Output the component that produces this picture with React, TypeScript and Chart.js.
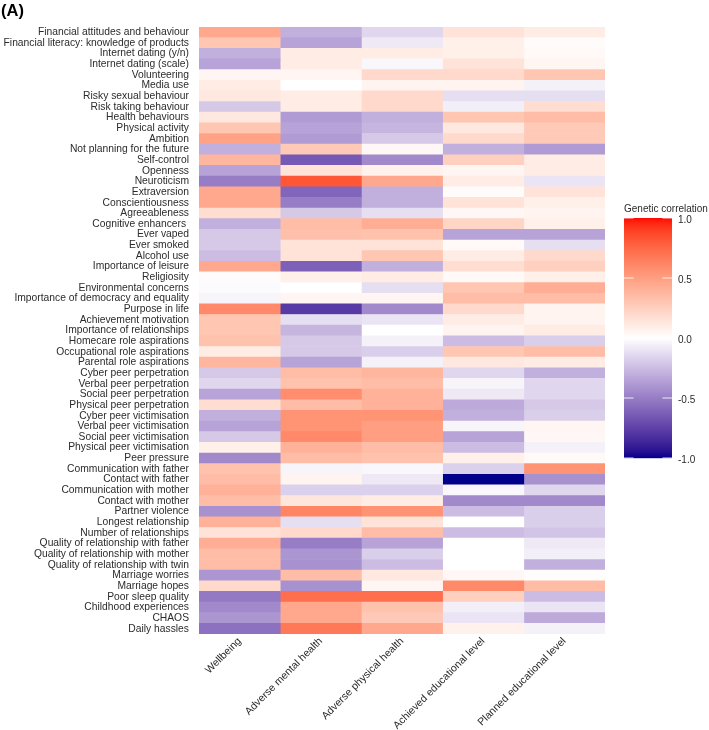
import React, { useEffect, useRef } from "react";
import { Chart, registerables } from "chart.js";

Chart.register(...registerables);

const panelTag = "(A)";
const legendTitle = "Genetic correlation";
const legendTicks = [1.0, 0.5, 0.0, -0.5, -1.0];
const legendTickLabels = ["1.0", "0.5", "0.0", "-0.5", "-1.0"];

const columnLabels = [
  "Wellbeing",
  "Adverse mental health",
  "Adverse physical health",
  "Achieved educational level",
  "Planned educational level",
];

const rowLabels = [
  "Financial attitudes and behaviour",
  "Financial literacy: knowledge of products",
  "Internet dating (y/n)",
  "Internet dating (scale)",
  "Volunteering",
  "Media use",
  "Risky sexual behaviour",
  "Risk taking behaviour",
  "Health behaviours",
  "Physical activity",
  "Ambition",
  "Not planning for the future",
  "Self-control",
  "Openness",
  "Neuroticism",
  "Extraversion",
  "Conscientiousness",
  "Agreeableness",
  "Cognitive enhancers ",
  "Ever vaped",
  "Ever smoked",
  "Alcohol use",
  "Importance of leisure",
  "Religiosity",
  "Environmental concerns",
  "Importance of democracy and equality",
  "Purpose in life",
  "Achievement motivation",
  "Importance of relationships",
  "Homecare role aspirations",
  "Occupational role aspirations",
  "Parental role aspirations",
  "Cyber peer perpetration",
  "Verbal peer perpetration",
  "Social peer perpetration",
  "Physical peer perpetration",
  "Cyber peer victimisation",
  "Verbal peer victimisation",
  "Social peer victimisation",
  "Physical peer victimisation",
  "Peer pressure",
  "Communication with father",
  "Contact with father",
  "Communication with mother",
  "Contact with mother",
  "Partner violence",
  "Longest relationship",
  "Number of relationships",
  "Quality of relationship with father",
  "Quality of relationship with mother",
  "Quality of relationship with twin",
  "Marriage worries",
  "Marriage hopes",
  "Poor sleep quality",
  "Childhood experiences",
  "CHAOS",
  "Daily hassles",
];

const wellbeing = [
  0.45, 0.3, -0.3, -0.35, 0.05, 0.1, 0.12, -0.2, 0.12, 0.3,
  0.48, -0.3, 0.38, -0.35, -0.5, 0.45, 0.45, 0.18, -0.3, -0.2,
  -0.2, -0.25, 0.45, 0.02, -0.02, -0.04, 0.6, 0.3, 0.3, 0.32,
  0.1, 0.38, -0.2, -0.15, -0.35, 0.18, -0.3, -0.35, -0.2, 0.08,
  -0.45, 0.32, 0.35, 0.4, 0.35, -0.42, 0.4, 0.15, 0.42, 0.35,
  0.35, -0.4, 0.2, -0.52, -0.45, -0.4, -0.55,
];

const adverseMental = [
  -0.3, -0.35, 0.1, 0.1, 0.05, 0.0, 0.1, 0.1, -0.38, -0.35,
  -0.38, 0.28, -0.65, 0.15, 0.82, -0.6, -0.5, -0.2, 0.35, 0.33,
  0.15, 0.15, -0.62, 0.08, 0.0, 0.05, -0.78, -0.12, -0.28, -0.2,
  -0.2, -0.35, 0.35, 0.32, 0.58, 0.35, 0.55, 0.55, 0.6, 0.4,
  0.35, -0.04, 0.06, -0.17, 0.13, 0.62, -0.12, 0.2, -0.5, -0.4,
  -0.42, 0.35, -0.42, 0.72, 0.45, 0.45, 0.68,
];

const adversePhysical = [
  -0.15, -0.08, 0.1, -0.03, 0.2, 0.06, 0.2, 0.2, -0.3, -0.28,
  -0.2, 0.04, -0.45, 0.07, 0.45, -0.3, -0.3, -0.12, 0.42, 0.32,
  0.15, 0.3, -0.3, 0.1, -0.12, 0.05, -0.45, -0.1, 0.0, -0.05,
  -0.18, -0.05, 0.38, 0.35, 0.4, 0.4, 0.55, 0.5, 0.5, 0.35,
  0.32, -0.03, -0.08, -0.17, 0.1, 0.55, 0.15, 0.35, -0.35, -0.18,
  -0.25, 0.12, 0.05, 0.72, 0.32, 0.28, 0.45,
];

const achievedEducation = [
  0.15, 0.08, 0.08, 0.15, 0.2, 0.06, -0.12, -0.06, 0.3, 0.12,
  0.2, -0.3, 0.25, 0.05, 0.1, 0.02, 0.15, 0.04, 0.22, -0.35,
  0.03, 0.1, 0.18, 0.03, 0.3, 0.35, 0.2, 0.1, 0.06, -0.25,
  0.3, 0.12, -0.15, -0.04, -0.08, -0.32, -0.3, -0.04, -0.35, -0.25,
  0.08, -0.17, -1.0, -0.03, -0.45, -0.25, 0.0, -0.25, 0.0, 0.0,
  0.0, 0.04, 0.6, 0.25, -0.06, -0.1, 0.07,
];

const plannedEducation = [
  0.1, 0.02, 0.03, 0.05, 0.3, -0.05, -0.12, 0.18, 0.35, 0.28,
  0.28, -0.38, 0.1, 0.1, -0.1, 0.15, 0.08, 0.06, 0.08, -0.35,
  -0.12, 0.2, 0.25, 0.08, 0.42, 0.35, 0.06, 0.06, 0.1, -0.18,
  0.35, 0.1, -0.3, -0.15, -0.15, -0.2, -0.18, 0.05, 0.04, -0.05,
  0.03, 0.55, -0.42, -0.15, -0.45, -0.18, -0.18, -0.22, -0.08, -0.06,
  -0.3, 0.01, 0.35, -0.25, -0.1, -0.32, -0.05,
];

const columnValues = [wellbeing, adverseMental, adversePhysical, achievedEducation, plannedEducation];

// ---- Lab colour interpolation (like ggplot2's scale_fill_gradient2) ----
function hexToRgb(hex: string) {
  const n = parseInt(hex.slice(1), 16);
  return [(n >> 16) & 255, (n >> 8) & 255, n & 255];
}
function toLinear(c: number) {
  c /= 255;
  return c <= 0.04045 ? c / 12.92 : Math.pow((c + 0.055) / 1.055, 2.4);
}
function fromLinear(c: number) {
  const v = c <= 0.0031308 ? 12.92 * c : 1.055 * Math.pow(c, 1 / 2.4) - 0.055;
  return Math.max(0, Math.min(255, Math.round(v * 255)));
}
const Xn = 0.95047, Yn = 1.0, Zn = 1.08883;
function fLab(t: number) {
  return t > 0.008856 ? Math.cbrt(t) : 7.787 * t + 16 / 116;
}
function fLabInv(t: number) {
  const t3 = t * t * t;
  return t3 > 0.008856 ? t3 : (t - 16 / 116) / 7.787;
}
function rgbToLab(rgb: number[]) {
  const r = toLinear(rgb[0]), g = toLinear(rgb[1]), b = toLinear(rgb[2]);
  const X = 0.4124564 * r + 0.3575761 * g + 0.1804375 * b;
  const Y = 0.2126729 * r + 0.7151522 * g + 0.072175 * b;
  const Z = 0.0193339 * r + 0.119192 * g + 0.9503041 * b;
  const fx = fLab(X / Xn), fy = fLab(Y / Yn), fz = fLab(Z / Zn);
  return [116 * fy - 16, 500 * (fx - fy), 200 * (fy - fz)];
}
function labToRgb(lab: number[]) {
  const fy = (lab[0] + 16) / 116;
  const fx = fy + lab[1] / 500;
  const fz = fy - lab[2] / 200;
  const X = Xn * fLabInv(fx), Y = Yn * fLabInv(fy), Z = Zn * fLabInv(fz);
  const r = 3.2404542 * X - 1.5371385 * Y - 0.4985314 * Z;
  const g = -0.969266 * X + 1.8760108 * Y + 0.041556 * Z;
  const b = 0.0556434 * X - 0.2040259 * Y + 1.0572252 * Z;
  return [fromLinear(r), fromLinear(g), fromLinear(b)];
}
const lowLab = rgbToLab(hexToRgb("#00008B"));
const midLab = rgbToLab(hexToRgb("#FFFFFF"));
const highLab = rgbToLab(hexToRgb("#FF0000"));
function colorFor(v: number) {
  const t = Math.max(-1, Math.min(1, v));
  const from = midLab;
  const to = t >= 0 ? highLab : lowLab;
  const a = Math.abs(t);
  const lab = [0, 1, 2].map((i) => from[i] + (to[i] - from[i]) * a);
  const rgb = labToRgb(lab);
  return `rgb(${rgb[0]},${rgb[1]},${rgb[2]})`;
}

const FONT = "'Liberation Sans', Arial, sans-serif";
const TEXT_COLOR = "#2b2b2b";

const decorPlugin = {
  id: "decor",
  afterDraw(chart: any) {
    const ctx = chart.ctx as CanvasRenderingContext2D;
    ctx.save();
    // panel tag
    ctx.fillStyle = "#000";
    ctx.font = `bold 16.5px ${FONT}`;
    ctx.textAlign = "left";
    ctx.textBaseline = "middle";
    ctx.fillText(panelTag, 1, 11);

    // colour bar legend
    const barX = 624, barW = 48, barTop = 218, barBottom = 458;
    const h = barBottom - barTop;
    for (let i = 0; i < h; i++) {
      const v = 1 - (2 * (i + 0.5)) / h;
      ctx.fillStyle = colorFor(v);
      ctx.fillRect(barX, barTop + i, barW, 1.2);
    }
    ctx.fillStyle = TEXT_COLOR;
    ctx.font = `10px ${FONT}`;
    ctx.textAlign = "left";
    ctx.textBaseline = "middle";
    ctx.fillText(legendTitle, 624, 209);
    legendTicks.forEach((v, i) => {
      const y = barTop + ((1 - v) / 2) * h;
      ctx.strokeStyle = "rgba(255,255,255,0.85)";
      ctx.lineWidth = 1;
      const tl = barW / 5;
      ctx.beginPath();
      ctx.moveTo(barX, y);
      ctx.lineTo(barX + tl, y);
      ctx.moveTo(barX + barW - tl, y);
      ctx.lineTo(barX + barW, y);
      ctx.stroke();
      ctx.fillStyle = TEXT_COLOR;
      ctx.fillText(legendTickLabels[i], 678, y + 2);
    });
    ctx.restore();
  },
};

export default function App() {
  const canvasRef = useRef<HTMLCanvasElement | null>(null);

  useEffect(() => {
    if (!canvasRef.current) return;
    const chart = new Chart(canvasRef.current, {
      type: "bar",
      data: {
        labels: rowLabels,
        datasets: columnValues.map((vals, ci) => ({
          label: columnLabels[ci],
          data: vals.map(() => 1),
          backgroundColor: vals.map((v) => colorFor(v)),
          borderWidth: 0,
          barPercentage: 1,
          categoryPercentage: 1,
        })),
      },
      options: {
        indexAxis: "y",
        animation: false,
        responsive: false,
        events: [],
        layout: { padding: { top: 27, right: 104, left: 0, bottom: 0 } },
        plugins: {
          legend: { display: false },
          tooltip: { enabled: false },
          title: { display: false },
        },
        scales: {
          x: {
            type: "linear",
            stacked: true,
            min: 0,
            max: 5,
            grid: { display: false, drawTicks: false },
            border: { display: false },
            afterBuildTicks: (scale: any) => {
              scale.ticks = columnLabels.map((_, i) => ({ value: i + 0.5 }));
            },
            afterFit: (scale: any) => {
              scale.height = 96;
            },
            ticks: {
              autoSkip: false,
              minRotation: 45,
              maxRotation: 45,
              padding: 1,
              color: TEXT_COLOR,
              font: { family: FONT, size: 10.5 },
              callback: (_v: any, i: number) => columnLabels[i],
            },
          },
          y: {
            type: "category",
            stacked: true,
            grid: { display: false, drawTicks: false },
            border: { display: false },
            afterFit: (scale: any) => {
              scale.width = 199;
            },
            ticks: {
              autoSkip: false,
              padding: 10,
              color: TEXT_COLOR,
              font: { family: FONT, size: 10.3 },
            },
          },
        },
      },
      plugins: [decorPlugin],
    } as any);
    return () => chart.destroy();
  }, []);

  return (
    <div style={{ position: "absolute", left: 0, top: 0, width: 709, height: 730, background: "#fff" }}>
      <canvas ref={canvasRef} width={709} height={730} style={{ width: 709, height: 730, display: "block" }} />
    </div>
  );
}
